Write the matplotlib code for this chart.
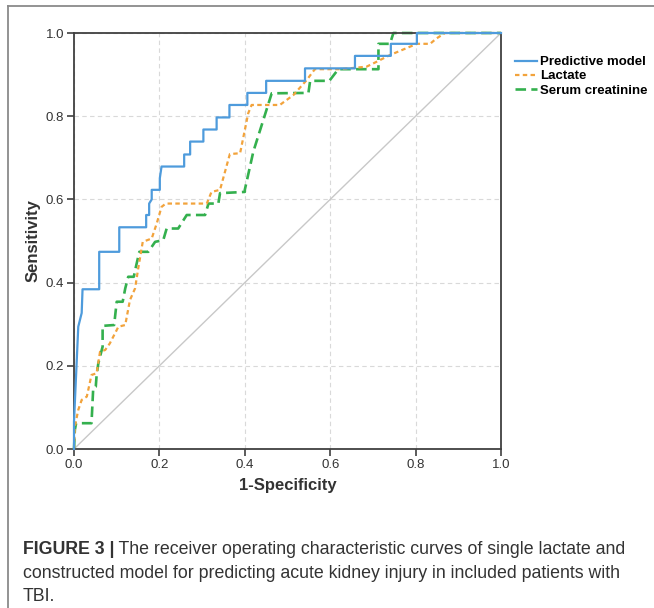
"""
ROC curves: predictive model vs. lactate vs. serum creatinine (AKI in TBI).
Vertices read off the published figure (FIGURE 3).
"""

import matplotlib
matplotlib.use("Agg")
import matplotlib.pyplot as plt
from matplotlib.lines import Line2D

# ---------------------------------------------------------------------------
# Data (1-specificity, sensitivity)
# ---------------------------------------------------------------------------
model_fpr = [0, 0, 0.010, 0.018, 0.020, 0.059, 0.059, 0.106, 0.106, 0.169,
             0.169, 0.176, 0.176, 0.182, 0.182, 0.201, 0.201, 0.205, 0.258,
             0.258, 0.272, 0.272, 0.303, 0.303, 0.334, 0.334, 0.364, 0.364,
             0.406, 0.406, 0.450, 0.450, 0.541, 0.541, 0.658, 0.658, 0.742,
             0.742, 0.803, 0.803, 1.0]
model_tpr = [0, 0.066, 0.294, 0.327, 0.384, 0.384, 0.474, 0.474, 0.533, 0.533,
             0.5625, 0.5625, 0.59, 0.60, 0.623, 0.623, 0.651, 0.679, 0.679,
             0.708, 0.708, 0.739, 0.739, 0.768, 0.768, 0.797, 0.797, 0.827,
             0.827, 0.856, 0.856, 0.885, 0.885, 0.915, 0.915, 0.945, 0.945,
             0.974, 0.974, 1.0, 1.0]

lactate_fpr = [0, 0.002, 0.010, 0.018, 0.030, 0.041, 0.053, 0.061, 0.073,
               0.084, 0.104, 0.120, 0.131, 0.143, 0.151, 0.161, 0.182, 0.194,
               0.205, 0.215, 0.311, 0.322, 0.342, 0.365, 0.389, 0.408, 0.416,
               0.482, 0.514, 0.545, 0.564, 0.623, 0.685, 0.709, 0.740, 0.803,
               0.834, 0.849, 0.869, 1.0]
lactate_tpr = [0, 0.054, 0.094, 0.118, 0.126, 0.178, 0.182, 0.234, 0.238,
               0.254, 0.294, 0.298, 0.358, 0.386, 0.438, 0.498, 0.506, 0.543,
               0.582, 0.590, 0.590, 0.618, 0.623, 0.709, 0.711, 0.807, 0.827,
               0.827, 0.851, 0.887, 0.913, 0.913, 0.919, 0.931, 0.947, 0.974,
               0.974, 0.987, 1.0, 1.0]

scr_fpr = [0, 0.002, 0.005, 0.041, 0.045, 0.051, 0.053, 0.057, 0.067, 0.067,
           0.094, 0.100, 0.114, 0.120, 0.127, 0.140, 0.145, 0.153, 0.174,
           0.190, 0.209, 0.217, 0.244, 0.264, 0.307, 0.315, 0.338, 0.342,
           0.400, 0.400, 0.420, 0.436, 0.463, 0.549, 0.553, 0.598, 0.619,
           0.713, 0.713, 0.740, 0.748, 1.0]
scr_tpr = [0, 0.046, 0.062, 0.062, 0.146, 0.150, 0.178, 0.206, 0.246, 0.296,
           0.298, 0.354, 0.354, 0.386, 0.414, 0.414, 0.438, 0.474, 0.474,
           0.498, 0.502, 0.530, 0.530, 0.5625, 0.5625, 0.590, 0.590, 0.615,
           0.618, 0.623, 0.715, 0.767, 0.855, 0.856, 0.885, 0.885, 0.913,
           0.913, 0.974, 0.974, 1.0, 1.0]

labels = ["Predictive model", "Lactate", "Serum creatinine"]
ticks = [0.0, 0.2, 0.4, 0.6, 0.8, 1.0]
tick_labels = ["0.0", "0.2", "0.4", "0.6", "0.8", "1.0"]

caption_bold = "FIGURE 3 |"
caption_lines = [
    " The receiver operating characteristic curves of single lactate and",
    "constructed model for predicting acute kidney injury in included patients with",
    "TBI.",
]

# ---------------------------------------------------------------------------
# Style
# ---------------------------------------------------------------------------
plt.rcParams["font.family"] = ["Liberation Sans", "DejaVu Sans"]
BLUE = "#4E9BDC"
ORANGE = "#F2A33C"
GREEN = "#34B04E"
SPINE = "#404040"
TXT = "#333333"

W, H = 654, 608
fig = plt.figure(figsize=(W / 100, H / 100), dpi=100)

# figure frame (left and top rules of the journal panel)
fig.add_artist(Line2D([8 / W, 8 / W], [0, 1 - 6 / H], transform=fig.transFigure,
                      color="#8a8a8a", lw=1.3))
fig.add_artist(Line2D([8 / W, 1], [1 - 6 / H, 1 - 6 / H], transform=fig.transFigure,
                      color="#8a8a8a", lw=1.3))

ax = fig.add_axes([74 / W, 1 - 449 / H, 427 / W, 416 / H])

ax.plot([0, 1], [0, 1], color="#c8c8c8", lw=1.0, zorder=1)
ax.plot(model_fpr, model_tpr, color=BLUE, lw=1.6, ls="-", clip_on=False,
        zorder=4, label=labels[0])
ax.plot(lactate_fpr, lactate_tpr, color=ORANGE, lw=1.6, ls=(0, (2, 1.5)),
        clip_on=False, zorder=3, label=labels[1])
ax.plot(scr_fpr, scr_tpr, color=GREEN, lw=1.9, ls=(0, (4, 2)),
        clip_on=False, zorder=2, label=labels[2])

ax.set_xlim(0, 1)
ax.set_ylim(0, 1)
ax.set_xticks(ticks)
ax.set_xticklabels(tick_labels)
ax.set_yticks(ticks)
ax.set_yticklabels(tick_labels)
ax.grid(True, color="#d9d9d9", ls=(0, (4, 3)), lw=0.8)
ax.set_axisbelow(True)
for sp in ax.spines.values():
    sp.set_color(SPINE)
    sp.set_linewidth(1.3)
ax.tick_params(direction="out", length=5, width=1.2, color=SPINE,
               labelsize=9.5, labelcolor=TXT, pad=2)

ax.set_xlabel("1-Specificity", fontsize=12, fontweight="bold", color=TXT,
              labelpad=5)
ax.set_ylabel("Sensitivity", fontsize=12, fontweight="bold", color=TXT,
              labelpad=4)

fig.legend(loc="upper left", bbox_to_anchor=(515 / W, 1 - 56 / H),
           frameon=False, handlelength=1.7, handletextpad=0.2,
           labelspacing=0.15, borderpad=0, borderaxespad=0,
           prop={"weight": "bold", "size": 9.5})

# caption
fs = 12.8
renderer = fig.canvas.get_renderer()
t0 = fig.text(23 / W, 1 - 554 / H, caption_bold, fontsize=fs,
              fontweight="bold", color=TXT, va="baseline")
bb = t0.get_window_extent(renderer)
fig.text(bb.x1 / W, 1 - 554 / H, caption_lines[0], fontsize=fs, color=TXT,
         va="baseline")
fig.text(23 / W, 1 - 578 / H, caption_lines[1], fontsize=fs, color=TXT,
         va="baseline")
fig.text(23 / W, 1 - 601 / H, caption_lines[2], fontsize=fs, color=TXT,
         va="baseline")

fig.savefig("out.png", dpi=100)
